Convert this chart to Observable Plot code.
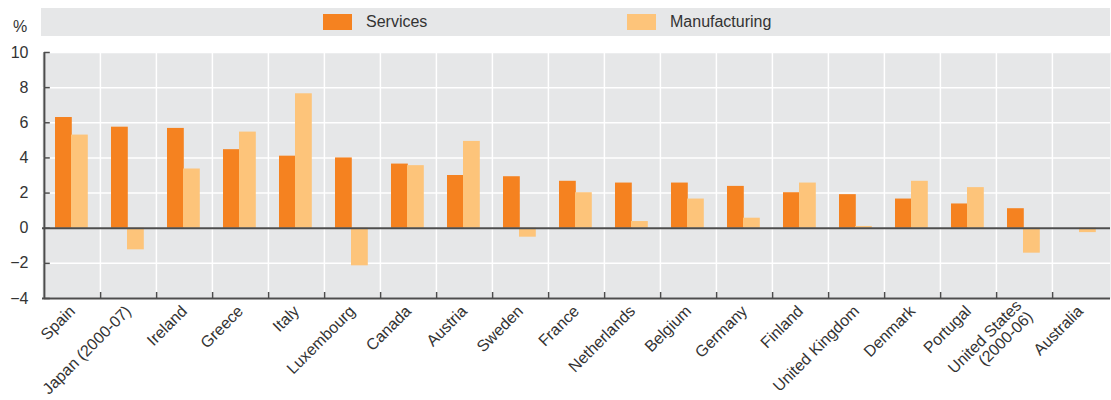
<!DOCTYPE html>
<html><head><meta charset="utf-8">
<script src="https://cdn.jsdelivr.net/npm/d3@7"></script>
<script src="https://cdn.jsdelivr.net/npm/@observablehq/plot@0.6"></script>
<style>
body{margin:0;background:#fff;font-family:"Liberation Sans Narrow","Liberation Sans",Arial,sans-serif;color:#333;}
#wrap{position:relative;width:1111px;height:400px;overflow:hidden;}
#legend{position:absolute;left:41px;top:8px;width:1069px;height:28px;background:#e6e7e8;}
.sw{position:absolute;top:6px;width:29px;height:16px;}
.lt{position:absolute;top:4px;font-size:16px;line-height:20px;color:#333;}
#pct{position:absolute;left:13px;top:18px;font-size:16px;color:#333;}
#chart{position:absolute;left:0;top:44px;}
</style></head>
<body>
<div id="wrap">
  <div id="pct">%</div>
  <div id="legend"></div>
  <div id="chart"></div>
</div>
<script>
const countries = ["Spain","Japan (2000-07)","Ireland","Greece","Italy","Luxembourg","Canada","Austria","Sweden","France","Netherlands","Belgium","Germany","Finland","United Kingdom","Denmark","Portugal","United States\n(2000-06)","Australia"];
const services = [6.3,5.75,5.68,4.47,4.1,4.0,3.65,3.0,2.93,2.67,2.57,2.57,2.38,2.02,1.91,1.66,1.38,1.11,null];
const manufacturing = [5.3,-1.23,3.37,5.47,7.65,-2.14,3.56,4.94,-0.51,2.02,0.38,1.66,0.57,2.57,0.1,2.67,2.31,-1.42,-0.25];
const seriesNames = ["Services","Manufacturing"];
const seriesColors = ["#f58220","#fdc47a"];
const yTicks = [-4,-2,0,2,4,6,8,10];

const W = 1111, H = 356, mL = 42, mR = 1, mT = 8, mB = 102;
const step = (W - mL - mR) / countries.length;
const plotH = H - mT - mB;

const sData = countries.map((c,i)=>({country:c, value:services[i]})).filter(d=>d.value!=null);
const mData = countries.map((c,i)=>({country:c, value:manufacturing[i]}));

// legend
const leg = document.getElementById("legend");
const legX = [282, 586];
seriesNames.forEach((n,i)=>{
  const s = document.createElement("div"); s.className="sw"; s.style.left=legX[i]+"px"; s.style.background=seriesColors[i]; leg.appendChild(s);
  const t = document.createElement("div"); t.className="lt"; t.style.left=(legX[i]+43)+"px"; t.textContent=n; leg.appendChild(t);
});

const axisColor = "#4d4d4d";
const chart = Plot.plot({
  width: W, height: H,
  marginLeft: mL, marginRight: mR, marginTop: mT, marginBottom: mB,
  style: {fontFamily: '"Liberation Sans Narrow","Liberation Sans",Arial,sans-serif', fontSize: "16px", color: "#333", background: "transparent"},
  x: {domain: countries, padding: 0, label: null},
  y: {domain: [-4, 10], label: null},
  marks: [
    Plot.frame({fill: "#e6e7e8", stroke: null}),
    Plot.gridY(yTicks, {stroke: "#fff", strokeOpacity: 1, strokeWidth: 1.5}),
    Plot.ruleX(countries.slice(1), {x: d=>d, dx: -step/2, stroke: "#fff", strokeWidth: 1.5}),
    Plot.barY(sData, {x: "country", y: "value", fill: seriesColors[0], insetLeft: 11, insetRight: step-28}),
    Plot.barY(mData, {x: "country", y: "value", fill: seriesColors[1], insetLeft: 27, insetRight: step-44}),
    Plot.ruleY([0], {stroke: axisColor, strokeWidth: 2}),
    Plot.ruleY([-4], {stroke: axisColor, strokeWidth: 2}),
    Plot.ruleX([countries[0]], {dx: -step/2, stroke: axisColor, strokeWidth: 2}),
    // inward y ticks
    Plot.ruleY(yTicks, {y: d=>d, x1: () => countries[0], x2: () => countries[0], insetRight: step-6, stroke: axisColor, strokeWidth: 1.5}),
    // inward x ticks at category boundaries
    Plot.ruleX(countries.slice(0, -1), {x: d=>d, dx: step/2, insetTop: plotH-6, stroke: axisColor, strokeWidth: 1.5}),
    Plot.axisY(yTicks, {tickSize: 0, tickPadding: 14, fontSize: 16, fill: "#333"}),
    Plot.axisX({tickRotate: -45, tickSize: 0, tickPadding: 10, fontSize: 16, fill: "#333"})
  ]
});
document.getElementById("chart").appendChild(chart);
</script>
</body></html>
